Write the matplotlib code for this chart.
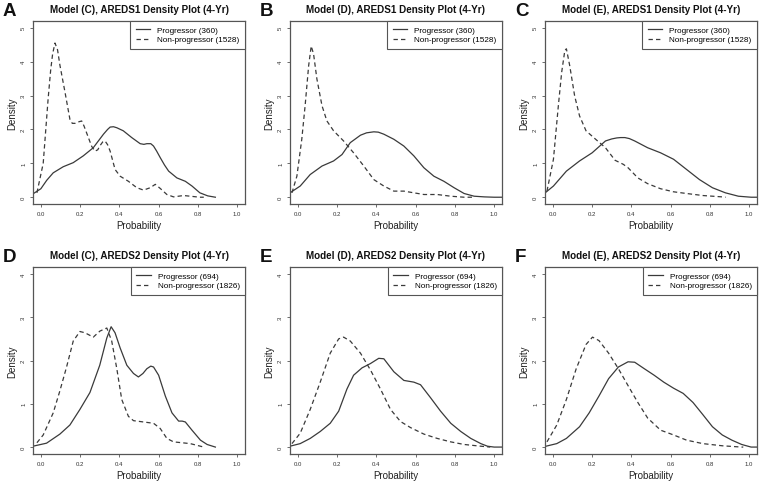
import matplotlib
matplotlib.use("Agg")
import matplotlib.pyplot as plt

plt.rcParams['font.family'] = ['Liberation Sans', 'DejaVu Sans']

# ---------------- data ----------------
titles = ["Model (C), AREDS1 Density Plot (4-Yr)",
          "Model (D), AREDS1 Density Plot (4-Yr)",
          "Model (E), AREDS1 Density Plot (4-Yr)",
          "Model (C), AREDS2 Density Plot (4-Yr)",
          "Model (D), AREDS2 Density Plot (4-Yr)",
          "Model (E), AREDS2 Density Plot (4-Yr)"]
letters = ["A", "B", "C", "D", "E", "F"]
prog_labels = ["Progressor (360)"] * 3 + ["Progressor (694)"] * 3
nonprog_labels = ["Non-progressor (1528)"] * 3 + ["Non-progressor (1826)"] * 3

# Panel A
a_prog_x = [-0.04, 0.0, 0.03, 0.063, 0.114, 0.165, 0.216, 0.267, 0.319, 0.34, 0.353, 0.37, 0.387, 0.42, 0.463, 0.506, 0.525, 0.54, 0.56, 0.574, 0.59, 0.608, 0.63, 0.651, 0.693, 0.736, 0.77, 0.81, 0.85, 0.889]
a_prog_y = [0.1, 0.25, 0.5, 0.72, 0.9, 1.02, 1.22, 1.46, 1.86, 2.0, 2.07, 2.08, 2.05, 1.96, 1.76, 1.58, 1.56, 1.58, 1.58, 1.51, 1.36, 1.17, 0.95, 0.77, 0.57, 0.47, 0.33, 0.13, 0.04, 0.0]
a_non_x = [-0.02, 0.012, 0.037, 0.05, 0.06, 0.072, 0.085, 0.097, 0.123, 0.148, 0.16, 0.174, 0.19, 0.208, 0.22, 0.233, 0.259, 0.276, 0.29, 0.30, 0.315, 0.327, 0.34, 0.353, 0.378, 0.404, 0.446, 0.489, 0.523, 0.557, 0.583, 0.608, 0.642, 0.676, 0.727, 0.761, 0.81, 0.83]
a_non_y = [0.13, 1.0, 2.9, 3.75, 4.23, 4.55, 4.35, 3.9, 3.1, 2.3, 2.18, 2.18, 2.22, 2.25, 2.1, 1.9, 1.5, 1.36, 1.4, 1.51, 1.63, 1.66, 1.55, 1.36, 0.82, 0.62, 0.47, 0.28, 0.21, 0.28, 0.38, 0.26, 0.08, 0.01, 0.05, 0.03, 0.0, 0.0]

# Panel B
b_prog_x = [-0.04, 0.012, 0.063, 0.123, 0.182, 0.225, 0.267, 0.319, 0.35, 0.387, 0.41, 0.438, 0.489, 0.54, 0.591, 0.642, 0.693, 0.744, 0.796, 0.847, 0.898, 0.95, 1.0, 1.04]
b_prog_y = [0.13, 0.33, 0.67, 0.92, 1.07, 1.26, 1.61, 1.83, 1.9, 1.93, 1.92, 1.86, 1.71, 1.51, 1.22, 0.87, 0.62, 0.47, 0.28, 0.11, 0.03, 0.01, 0.0, 0.0]
b_non_x = [-0.03, -0.005, 0.02, 0.037, 0.055, 0.068, 0.08, 0.097, 0.123, 0.148, 0.182, 0.233, 0.284, 0.336, 0.387, 0.438, 0.489, 0.54, 0.591, 0.642, 0.71, 0.779, 0.847, 0.898]
b_non_y = [0.13, 0.62, 1.71, 2.7, 3.88, 4.46, 4.23, 3.49, 2.7, 2.25, 1.96, 1.66, 1.31, 0.92, 0.52, 0.33, 0.18, 0.18, 0.13, 0.08, 0.08, 0.03, 0.0, 0.0]

# Panel C
c_prog_x = [-0.035, 0.003, 0.069, 0.136, 0.2, 0.268, 0.3, 0.326, 0.345, 0.367, 0.39, 0.417, 0.483, 0.549, 0.615, 0.681, 0.747, 0.813, 0.879, 0.945, 1.01, 1.04]
c_prog_y = [0.15, 0.33, 0.77, 1.07, 1.31, 1.66, 1.72, 1.75, 1.76, 1.76, 1.73, 1.66, 1.46, 1.31, 1.12, 0.82, 0.52, 0.28, 0.13, 0.03, 0.0, 0.0]
c_non_x = [-0.03, 0.003, 0.028, 0.045, 0.061, 0.069, 0.086, 0.111, 0.136, 0.169, 0.218, 0.268, 0.317, 0.359, 0.383, 0.433, 0.483, 0.549, 0.615, 0.681, 0.764, 0.863, 0.88]
c_non_y = [0.18, 1.12, 2.7, 3.69, 4.33, 4.38, 3.88, 2.99, 2.4, 1.96, 1.71, 1.46, 1.09, 0.97, 0.87, 0.57, 0.4, 0.25, 0.16, 0.11, 0.05, 0.01, 0.0]

# Panel D
d_prog_x = [-0.04, 0.029, 0.097, 0.148, 0.199, 0.25, 0.30, 0.336, 0.358, 0.378, 0.404, 0.438, 0.472, 0.497, 0.52, 0.54, 0.56, 0.574, 0.6, 0.634, 0.668, 0.702, 0.72, 0.736, 0.77, 0.813, 0.847, 0.889]
d_prog_y = [0.02, 0.09, 0.3, 0.51, 0.87, 1.26, 1.89, 2.52, 2.78, 2.64, 2.29, 1.89, 1.7, 1.62, 1.7, 1.81, 1.87, 1.85, 1.66, 1.18, 0.79, 0.6, 0.6, 0.58, 0.39, 0.16, 0.06, 0.0]
d_non_x = [-0.02, 0.012, 0.063, 0.097, 0.131, 0.165, 0.199, 0.225, 0.267, 0.301, 0.336, 0.361, 0.387, 0.412, 0.446, 0.472, 0.523, 0.574, 0.608, 0.642, 0.676, 0.719, 0.761, 0.813, 0.83]
d_non_y = [0.1, 0.28, 0.79, 1.3, 1.85, 2.45, 2.67, 2.64, 2.54, 2.68, 2.75, 2.45, 1.81, 1.1, 0.71, 0.61, 0.58, 0.55, 0.43, 0.2, 0.12, 0.1, 0.08, 0.02, 0.0]

# Panel E
e_prog_x = [-0.04, 0.012, 0.063, 0.114, 0.165, 0.208, 0.25, 0.284, 0.327, 0.37, 0.412, 0.438, 0.489, 0.54, 0.591, 0.625, 0.676, 0.727, 0.779, 0.83, 0.881, 0.932, 0.966, 1.0, 1.04]
e_prog_y = [0.02, 0.08, 0.2, 0.36, 0.55, 0.83, 1.34, 1.66, 1.83, 1.93, 2.05, 2.04, 1.74, 1.54, 1.5, 1.44, 1.14, 0.83, 0.55, 0.36, 0.2, 0.08, 0.02, 0.0, 0.0]
e_non_x = [-0.03, 0.012, 0.063, 0.114, 0.165, 0.208, 0.233, 0.267, 0.319, 0.37, 0.421, 0.472, 0.523, 0.574, 0.642, 0.71, 0.779, 0.847, 0.932, 0.98]
e_non_y = [0.08, 0.32, 0.87, 1.5, 2.17, 2.5, 2.54, 2.45, 2.17, 1.78, 1.34, 0.87, 0.59, 0.45, 0.3, 0.2, 0.12, 0.06, 0.02, 0.0]

# Panel F
f_prog_x = [-0.035, 0.02, 0.069, 0.136, 0.185, 0.235, 0.284, 0.334, 0.383, 0.417, 0.466, 0.516, 0.565, 0.615, 0.664, 0.714, 0.764, 0.813, 0.863, 0.912, 0.962, 1.01, 1.04]
f_prog_y = [0.02, 0.08, 0.2, 0.47, 0.79, 1.18, 1.58, 1.85, 1.97, 1.96, 1.81, 1.66, 1.5, 1.36, 1.24, 1.03, 0.75, 0.47, 0.28, 0.16, 0.06, 0.0, 0.0]
f_non_x = [-0.03, 0.02, 0.069, 0.119, 0.169, 0.202, 0.235, 0.284, 0.334, 0.383, 0.433, 0.483, 0.549, 0.615, 0.681, 0.764, 0.863, 0.962, 0.97]
f_non_y = [0.12, 0.51, 1.1, 1.81, 2.37, 2.54, 2.46, 2.17, 1.81, 1.42, 1.03, 0.67, 0.39, 0.28, 0.16, 0.08, 0.03, 0.0, 0.0]

prog_x = [a_prog_x, b_prog_x, c_prog_x, d_prog_x, e_prog_x, f_prog_x]
prog_y = [a_prog_y, b_prog_y, c_prog_y, d_prog_y, e_prog_y, f_prog_y]
non_x = [a_non_x, b_non_x, c_non_x, d_non_x, e_non_x, f_non_x]
non_y = [a_non_y, b_non_y, c_non_y, d_non_y, e_non_y, f_non_y]

x_ticks = [0.0, 0.2, 0.4, 0.6, 0.8, 1.0]
x_tick_labels = ["0.0", "0.2", "0.4", "0.6", "0.8", "1.0"]
y_max_rows = [5, 4]

# ---------------- figure ----------------
W, H = 762, 489
fig = plt.figure(figsize=(W / 100, H / 100), dpi=100)

lefts = [33, 290, 545]
panel_w = 212
rows = [(22, 205), (268, 455)]

line_col = "#3a3a3a"
frame_col = "#555555"

for i in range(6):
    r, c = divmod(i, 3)
    top, bot = rows[r]
    ax = fig.add_axes([lefts[c] / W, 1 - bot / H, panel_w / W, (bot - top) / H])
    ymax = y_max_rows[r]
    ax.plot(prog_x[i], prog_y[i], color=line_col, lw=0.9, ls='-', label=prog_labels[i])
    ax.plot(non_x[i], non_y[i], color=line_col, lw=0.9, ls=(0, (3.5, 2.5)), label=nonprog_labels[i])
    ax.set_xlim(-0.04, 1.04)
    ax.set_ylim(-0.04 * ymax, 1.04 * ymax)
    ax.set_xticks(x_ticks)
    ax.set_xticklabels(x_tick_labels)
    ax.set_yticks(list(range(ymax + 1)))
    ax.set_yticklabels([str(v) for v in range(ymax + 1)], rotation=90, va='center')
    ax.tick_params(axis='both', labelsize=4.3, length=2.5, width=0.6, color=frame_col,
                   labelcolor="#333333", pad=2.5)
    for s in ax.spines.values():
        s.set_color(frame_col)
        s.set_linewidth(0.9)
    ax.set_xlabel("Probability", fontsize=7, labelpad=3, color="#222222")
    ax.set_ylabel("Density", fontsize=7, labelpad=3, color="#222222")
    ax.set_title(titles[i], fontsize=7.1, fontweight='bold', pad=6.5, color="#111111")
    leg = ax.legend(loc='upper right', fontsize=5.9, frameon=True, fancybox=False,
                    borderaxespad=0, framealpha=1, edgecolor=frame_col,
                    handlelength=1.8, handletextpad=0.85, borderpad=0.65, labelspacing=0.2)
    leg.get_frame().set_linewidth(0.8)
    fig.text((lefts[c] - 30) / W, 1 - (top - 10) / H, letters[i], fontsize=13.5,
             fontweight='bold', ha='left', va='center', color="#111111")

fig.savefig("out.png", dpi=100)
